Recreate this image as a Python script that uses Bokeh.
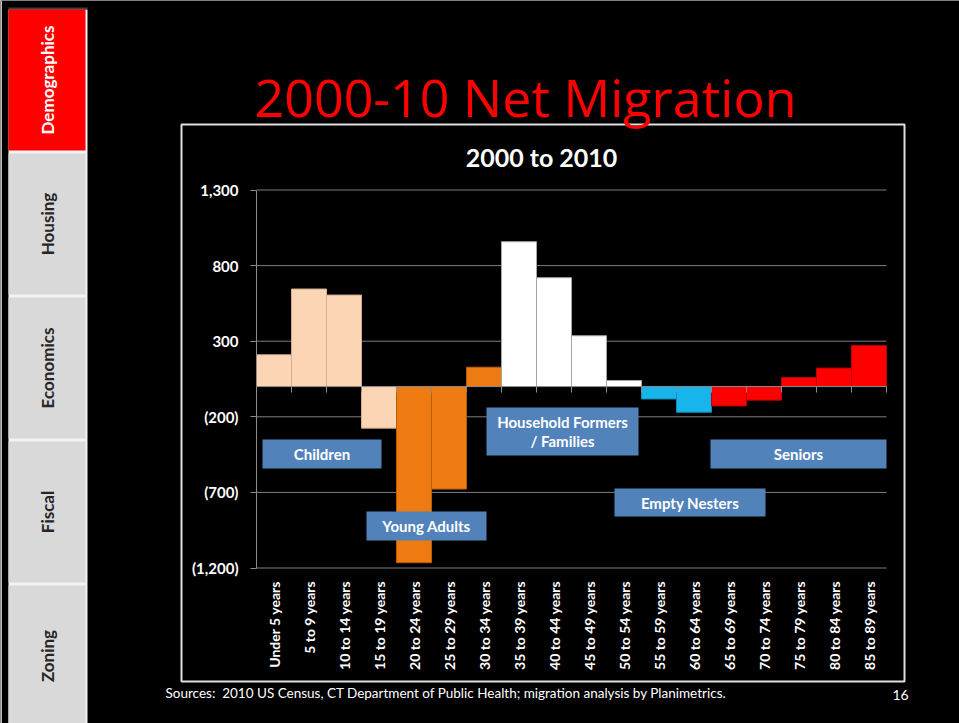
import math
from bokeh.plotting import figure
from bokeh.models import Range1d, FixedTicker, LinearAxis
from bokeh.core.properties import value
from bokeh.embed import file_html
from bokeh.resources import INLINE

# ---------------- data ----------------
categories = ["Under 5 years", "5 to 9 years", "10 to 14 years", "15 to 19 years",
              "20 to 24 years", "25 to 29 years", "30 to 34 years", "35 to 39 years",
              "40 to 44 years", "45 to 49 years", "50 to 54 years", "55 to 59 years",
              "60 to 64 years", "65 to 69 years", "70 to 74 years", "75 to 79 years",
              "80 to 84 years", "85 to 89 years"]
net_migration = [210, 645, 605, -275, -1165, -678, 128, 958, 720, 336, 40,
                 -82, -170, -128, -90, 60, 122, 272]
bar_group = ["Children"] * 4 + ["Young Adults"] * 3 + ["Household"] * 4 + \
            ["Empty Nesters"] * 2 + ["Seniors"] * 5
y_ticks = [-1200, -700, -200, 300, 800, 1300]
y_tick_labels = ["(1,200)", "(700)", "(200)", "300", "800", "1,300"]
sidebar_tabs = ["Demographics", "Housing", "Economics", "Fiscal", "Zoning"]
group_labels = [["Children"], ["Young Adults"], ["Household Formers", "/ Families"],
                ["Empty Nesters"], ["Seniors"]]
main_title = "2000-10 Net Migration"
chart_title = "2000 to 2010"
source_note = "Sources:\u00a0 2010 US Census, CT Department of Public Health; migration analysis by Planimetrics."
page_number = "16"

# ---------------- styles ----------------
FONT = "Lato"
TITLE_FONT = "Open Sans"
group_fill = {"Children": "#FCD5B4", "Young Adults": "#EE7A12", "Household": "#FFFFFF",
              "Empty Nesters": "#18B4EC", "Seniors": "#FF0000"}
group_edge = {"Children": "#D4AE8E", "Young Adults": "#B85C08", "Household": "#A6A6A6",
              "Empty Nesters": "#0F8DBE", "Seniors": "#B80000"}
bar_fill = [group_fill[g] for g in bar_group]
bar_edge = [group_edge[g] for g in bar_group]

# ---------------- canvas / layout geometry (pixels) ----------------
W, H = 959, 723
PLOT_L, PLOT_R = 256.0, 886.0          # left / right of the bar area
PX_TOP, PX_BOT = 189.5, 567.5          # pixel rows of the top / bottom y tick

n = len(categories)
px_per_cat = (PLOT_R - PLOT_L) / n
idx_range = Range1d(-PLOT_L / px_per_cat, n + (W - PLOT_R) / px_per_cat)
v_hi, v_lo = y_ticks[-1], y_ticks[0]
ppu = (PX_BOT - PX_TOP) / (v_hi - v_lo)
val_range = Range1d(v_hi - (H - PX_TOP) / ppu, v_hi + PX_TOP / ppu)

p = figure(width=W, height=H, x_range=Range1d(0, W), y_range=Range1d(H, 0),
           x_axis_type=None, y_axis_type=None,
           output_backend="svg", toolbar_location=None,
           background_fill_color="black", border_fill_color="black",
           outline_line_color=None, min_border=0)
p.extra_x_ranges = {"idx": idx_range}
p.extra_y_ranges = {"val": val_range}
R = dict(x_range_name="idx", y_range_name="val")

def txt(x, y, s, size, color="white", bold=False, align="center", angle=0.0,
        font=FONT, **kw):
    p.text(x=[x], y=[y], text=[s], text_font=value(font), text_font_size=value(size),
           text_color=color, text_font_style="bold" if bold else "normal",
           text_align=align, text_baseline="middle", angle=angle, **kw)

# ---------------- sidebar ----------------
p.quad(left=[0], right=[1.5], top=[0], bottom=[H], fill_color="#BFBFBF", line_color=None)
p.quad(left=[8], right=[87], top=[9], bottom=[H], fill_color="#F2F2F2", line_color=None)
p.quad(left=[8], right=[87], top=[7], bottom=[9], fill_color="#404040", line_color=None)
tab_h = 144
for i, name in enumerate(sidebar_tabs):
    top = 9 + i * tab_h
    active = i == 0
    p.quad(left=[8], right=[85], top=[top], bottom=[top + tab_h - 3],
           fill_color="#FF0000" if active else "#D9D9D9", line_color=None)
    txt(47, top + (tab_h - 3) / 2, name, "17px",
        color="white" if active else "#262626", bold=True, angle=math.pi / 2)

# ---------------- chart frame & titles ----------------
p.quad(left=[181], right=[904], top=[124], bottom=[681], fill_color=None,
       line_color="#E0E0E0", line_width=2)
txt(541, 156, chart_title, "25px", bold=True)
txt(525, 96, main_title, "52px", color="#FF0000", font=TITLE_FONT)

# ---------------- chart ----------------
# horizontal gridlines
p.segment(x0=[0] * len(y_ticks), x1=[n] * len(y_ticks), y0=y_ticks, y1=y_ticks,
          line_color="#7F7F7F", line_width=1, **R)

# bars
centers = [i + 0.5 for i in range(n)]
p.vbar(x=centers, top=net_migration, bottom=0, width=1.0,
       fill_color=bar_fill, line_color=bar_edge, line_width=1, **R)

# zero axis with category tick marks
bounds = list(range(n + 1))
tick_len = 6 / ppu
p.segment(x0=[0], x1=[n], y0=[0], y1=[0], line_color="#8C8C8C", line_width=1, **R)
p.segment(x0=bounds, x1=bounds, y0=[0] * len(bounds), y1=[-tick_len] * len(bounds),
          line_color="#8C8C8C", line_width=1, **R)

# y axis
yax = LinearAxis(fixed_location=0, bounds=(v_lo, v_hi),
                 ticker=FixedTicker(ticks=y_ticks),
                 major_label_overrides={t: l for t, l in zip(y_ticks, y_tick_labels)},
                 axis_line_color="#8C8C8C", major_tick_line_color="#8C8C8C",
                 major_tick_out=6, major_tick_in=0, minor_tick_line_color=None,
                 major_label_text_color="white", major_label_text_font=FONT,
                 major_label_text_font_style="bold", major_label_text_font_size="15px",
                 major_label_standoff=12, **R)
p.add_layout(yax, "left")

# category axis at the bottom of the plot
xax = LinearAxis(fixed_location=v_lo, bounds=(0, n),
                 ticker=FixedTicker(ticks=centers),
                 major_label_overrides={c: s for c, s in zip(centers, categories)},
                 axis_line_color=None, major_tick_line_color=None,
                 minor_tick_line_color=None,
                 major_label_orientation=math.pi / 2,
                 major_label_text_color="white", major_label_text_font=FONT,
                 major_label_text_font_style="bold", major_label_text_font_size="14px",
                 major_label_standoff=7, **R)
p.add_layout(xax, "below")

# ---------------- group callouts ----------------
group_boxes = [(262, 439, 381, 468), (366, 511, 486, 540), (486, 407, 638, 455),
               (614, 488, 765, 516), (710, 439, 886, 468)]
for (l, t, r, b), lines in zip(group_boxes, group_labels):
    p.quad(left=[l], right=[r], top=[t], bottom=[b], fill_color="#5182BA", line_color=None)
    cx, cy = (l + r) / 2, (t + b) / 2
    step = 19
    y0 = cy - step * (len(lines) - 1) / 2
    for k, ln in enumerate(lines):
        txt(cx, y0 + k * step, ln, "15px", bold=True)

# ---------------- footer ----------------
txt(165, 692, source_note, "13.5px", align="left")
txt(900, 694, page_number, "14px")

open("out.html", "w").write(file_html(p, INLINE))
